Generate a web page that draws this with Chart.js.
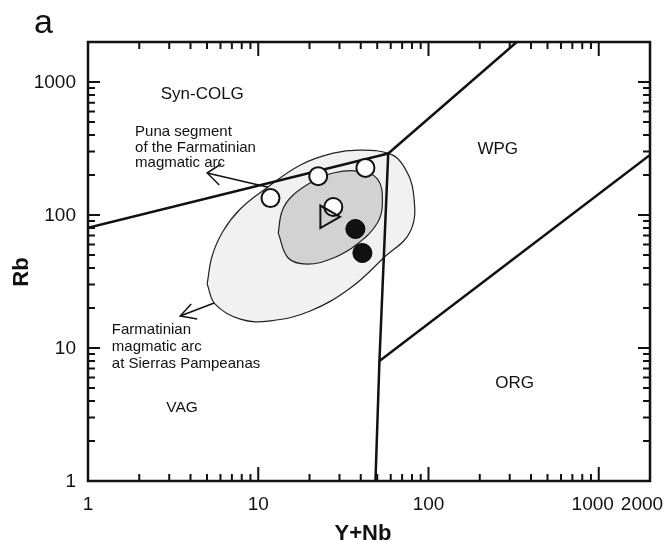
<!DOCTYPE html>
<html>
<head>
<meta charset="utf-8">
<script src="https://cdn.jsdelivr.net/npm/chart.js@4.4.1/dist/chart.umd.min.js"></script>
<style>
  html, body { margin: 0; padding: 0; background: #ffffff; }
  #wrap { width: 668px; height: 540px; }
</style>
</head>
<body>
<div id="wrap"><canvas id="c" width="668" height="540"></canvas></div>
<script>
// ---------- data ----------
const xMajorTicks = [1, 10, 100, 1000];
const yMajorTicks = [1, 10, 100, 1000];
const xTickLabels = ['1', '10', '100', '1000', '2000'];
const xTickLabelValues = [1, 10, 100, 1000, 2000];
const yTickLabels = ['1', '10', '100', '1000'];

// field boundaries (Y+Nb, Rb)
const synColgVagX = [1, 58];
const synColgVagY = [80, 290];
const synColgWpgX = [58, 330];
const synColgWpgY = [290, 2000];
const vagOrgX = [58, 51.5, 48.8];
const vagOrgY = [290, 8, 1];
const wpgOrgX = [51.5, 2000];
const wpgOrgY = [8, 283];

// outlined fields
const outerEllipseX = [5.01, 5.36, 6.22, 7.84, 11.0, 17.7, 27.6, 39.8, 59.8, 71.3, 81.6, 78.4, 54.4, 34.8, 20.2, 11.8, 7.84, 5.58, 5.01];
const outerEllipseY = [30.3, 49.2, 75.8, 111, 157, 238, 292, 308, 287, 234, 146, 75.8, 47.5, 28.3, 19.0, 16.0, 16.5, 21.4, 30.3];
const innerEllipseX = [13.1, 13.8, 15.8, 21.1, 27.6, 38.2, 50.1, 53.6, 50.1, 38.2, 27.6, 19.4, 15.0, 13.1];
const innerEllipseY = [73.2, 107, 139, 180, 207, 214, 187, 123, 87.1, 60.5, 47.5, 42.8, 47.5, 73.2];

// samples
const openCircleX = [11.8, 22.5, 42.6, 27.6];
const openCircleY = [134, 196, 226, 115];
const triangleX = [25.3];
const triangleY = [97];
const filledCircleX = [37.2, 40.9];
const filledCircleY = [78.5, 51.8];

// arrows
const punaShaftX = [11.45, 5.01];
const punaShaftY = [162, 207];
const punaHeadX = [6.06, 5.01, 5.9];
const punaHeadY = [242, 207, 168];
const pampShaftX = [5.51, 3.48];
const pampShaftY = [21.8, 17.4];
const pampHeadX = [4.04, 3.48, 4.38];
const pampHeadY = [21.4, 17.4, 16.5];

// ---------- helpers ----------
function pts(xs, ys) { return xs.map((x, i) => ({ x: x, y: ys[i] })); }

const FONT = '"Liberation Sans", Arial, Helvetica, sans-serif';
const INK = '#111111';

function lineDs(xs, ys, width, order) {
  return { data: pts(xs, ys), showLine: true, borderColor: INK, borderWidth: width,
           pointRadius: 0, fill: false, tension: 0, order: order };
}

const annotations = [
  { lines: ['Syn-COLG'], x: 4.69, y: 812, align: 'center', size: 17, lh: 0 },
  { lines: ['WPG'], x: 255, y: 313, align: 'center', size: 17, lh: 0 },
  { lines: ['ORG'], x: 321, y: 5.46, align: 'center', size: 17, lh: 0 },
  { lines: ['VAG'], x: 3.57, y: 3.54, align: 'center', size: 15.5, lh: 0 },
  { lines: ['Puna segment', 'of the Farmatinian', 'magmatic arc'], x: 1.89, y: 421, align: 'left', size: 15, lh: 15.5 },
  { lines: ['Farmatinian', 'magmatic arc', 'at Sierras Pampeanas'], x: 1.38, y: 13.7, align: 'left', size: 15, lh: 17 }
];

const framePlugin = {
  id: 'frame',
  afterDatasetsDraw(chart) {
    const ctx = chart.ctx;
    const a = chart.chartArea;
    const xs = chart.scales.x, ys = chart.scales.y;
    ctx.save();
    ctx.strokeStyle = INK;
    ctx.fillStyle = INK;
    // frame
    ctx.lineWidth = 2.5;
    ctx.strokeRect(a.left, a.top, a.right - a.left, a.bottom - a.top);
    // ticks
    const major = 14, minor = 7;
    ctx.lineWidth = 2;
    function xTick(v, len) {
      const px = xs.getPixelForValue(v);
      ctx.beginPath();
      ctx.moveTo(px, a.bottom); ctx.lineTo(px, a.bottom - len);
      ctx.moveTo(px, a.top); ctx.lineTo(px, a.top + len);
      ctx.stroke();
    }
    function yTick(v, len) {
      const py = ys.getPixelForValue(v);
      ctx.beginPath();
      ctx.moveTo(a.left, py); ctx.lineTo(a.left + len, py);
      ctx.moveTo(a.right, py); ctx.lineTo(a.right - len, py);
      ctx.stroke();
    }
    xMajorTicks.forEach(d => {
      xTick(d, major);
      for (let m = 2; m <= 9; m++) { if (m * d < 2000) xTick(m * d, minor); }
    });
    yMajorTicks.forEach(d => {
      yTick(d, major - 2);
      for (let m = 2; m <= 9; m++) { if (m * d < 2000) yTick(m * d, minor); }
    });
    // tick labels
    ctx.font = '19px ' + FONT;
    ctx.textBaseline = 'middle';
    ctx.textAlign = 'right';
    yMajorTicks.forEach((v, i) => {
      ctx.fillText(yTickLabels[i], a.left - 12, ys.getPixelForValue(v) + 1);
    });
    ctx.textAlign = 'center';
    xTickLabelValues.forEach((v, i) => {
      let px = xs.getPixelForValue(v);
      if (v === 1000) px -= 6;
      if (v === 2000) px -= 8;
      ctx.fillText(xTickLabels[i], px, a.bottom + 24);
    });
    // axis titles
    ctx.font = 'bold 22px ' + FONT;
    ctx.textBaseline = 'alphabetic';
    ctx.fillText('Y+Nb', 363, 540);
    ctx.save();
    ctx.translate(28, 272);
    ctx.rotate(-Math.PI / 2);
    ctx.textAlign = 'center';
    ctx.fillText('Rb', 0, 0);
    ctx.restore();
    // panel letter
    ctx.font = '34px ' + FONT;
    ctx.textAlign = 'left';
    ctx.fillText('a', 34, 33);
    // annotations
    annotations.forEach(an => {
      ctx.font = an.size + 'px ' + FONT;
      ctx.textAlign = an.align;
      ctx.textBaseline = 'middle';
      const px = xs.getPixelForValue(an.x);
      const py = ys.getPixelForValue(an.y);
      an.lines.forEach((t, i) => ctx.fillText(t, px, py + i * an.lh));
    });
    ctx.restore();
  }
};

const chart = new Chart(document.getElementById('c'), {
  type: 'scatter',
  data: {
    datasets: [
      { data: pts(outerEllipseX, outerEllipseY), showLine: true, borderColor: '#222',
        borderWidth: 1.2, backgroundColor: '#f1f1f1', fill: 'shape', tension: 0.4,
        pointRadius: 0, order: 20 },
      { data: pts(innerEllipseX, innerEllipseY), showLine: true, borderColor: '#222',
        borderWidth: 1.2, backgroundColor: '#d2d2d2', fill: 'shape', tension: 0.4,
        pointRadius: 0, order: 19 },
      lineDs(synColgVagX, synColgVagY, 2.5, 10),
      lineDs(synColgWpgX, synColgWpgY, 2.5, 10),
      lineDs(vagOrgX, vagOrgY, 2.5, 10),
      lineDs(wpgOrgX, wpgOrgY, 2.5, 10),
      lineDs(punaShaftX, punaShaftY, 1.5, 9),
      lineDs(punaHeadX, punaHeadY, 1.5, 9),
      lineDs(pampShaftX, pampShaftY, 1.5, 9),
      lineDs(pampHeadX, pampHeadY, 1.5, 9),
      { data: pts(openCircleX, openCircleY), pointStyle: 'circle', pointRadius: 9,
        backgroundColor: '#ffffff', borderColor: INK, borderWidth: 2, order: 3 },
      { data: pts(triangleX, triangleY), pointStyle: 'triangle', pointRadius: 13, rotation: 90,
        backgroundColor: 'rgba(0,0,0,0)', borderColor: INK, borderWidth: 2, order: 2 },
      { data: pts(filledCircleX, filledCircleY), pointStyle: 'circle', pointRadius: 9.5,
        backgroundColor: '#111111', borderColor: '#000', borderWidth: 1, order: 1 }
    ]
  },
  options: {
    responsive: false,
    devicePixelRatio: 1,
    animation: false,
    layout: { padding: { left: 88, top: 42, right: 18, bottom: 59 } },
    plugins: { legend: { display: false }, tooltip: { enabled: false } },
    scales: {
      x: { type: 'logarithmic', min: 1, max: 2000, display: false },
      y: { type: 'logarithmic', min: 1, max: 2000, display: false }
    }
  },
  plugins: [framePlugin]
});
</script>
</body>
</html>
